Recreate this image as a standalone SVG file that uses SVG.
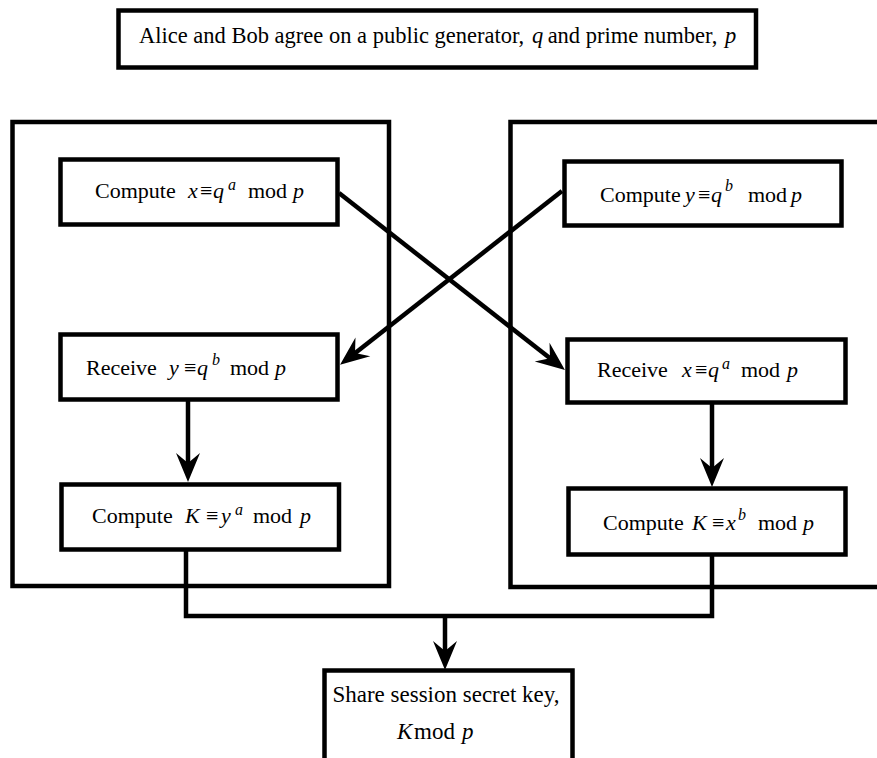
<svg xmlns="http://www.w3.org/2000/svg" width="877" height="758" viewBox="0 0 877 758">
<defs>
<style>
.box{fill:#fff;stroke:#000;stroke-width:4.5}
.outer{fill:none;stroke:#000;stroke-width:4.5}
.t{font-family:"Liberation Serif","Times New Roman",serif;font-size:22px;fill:#000}
.i{font-style:italic}
.s{font-style:italic;font-size:16px}
.c{fill:none;stroke:#000;stroke-width:4.5}
</style>
<marker id="ah" markerUnits="userSpaceOnUse" viewBox="0 0 32 26" markerWidth="32" markerHeight="26" refX="18" refY="13" orient="auto">
<path d="M30,13 L1,1 L11,13 L1,25 Z" fill="#000"/>
</marker>
</defs>
<rect width="877" height="758" fill="#fff"/>

<g id="containers">
<rect class="outer" x="12.5" y="122" width="376.5" height="464"/>
<rect class="outer" x="510.5" y="122" width="380" height="465"/>
</g>

<g id="connectors">
<path class="c" d="M339,193 L555.5,362.6" marker-end="url(#ah)"/>
<path class="c" d="M562,191 L349.5,357.4" marker-end="url(#ah)"/>
<path class="c" d="M188,401 L188,470" marker-end="url(#ah)"/>
<path class="c" d="M712,404 L712,475" marker-end="url(#ah)"/>
<path class="c" d="M186,551 L186,616 L712,616 L712,556"/>
<path class="c" d="M445,616 L445,658" marker-end="url(#ah)"/>
</g>

<g id="agree">
<rect class="box" x="118.5" y="10.5" width="637.5" height="57" stroke-width="5"/>
<text class="t" y="43" style="font-size:22.5px"><tspan x="139">Alice and Bob agree on a public generator, </tspan><tspan x="532" class="i">q</tspan><tspan x="542"> and prime number, </tspan><tspan x="725" class="i">p</tspan></text>
</g>

<g id="alice-compute-x">
<rect class="box" x="60.5" y="159.5" width="277" height="65"/>
<text class="t" y="198"><tspan x="95">Compute</tspan><tspan x="188" class="i">x</tspan><tspan x="200">≡</tspan><tspan x="213" class="i">q</tspan><tspan x="228" y="190" class="s">a</tspan><tspan x="248" y="198">mod</tspan><tspan x="293" class="i">p</tspan></text>
</g>

<g id="alice-receive-y">
<rect class="box" x="60.5" y="334.5" width="277" height="65"/>
<text class="t" y="375"><tspan x="86">Receive</tspan><tspan x="169" class="i">y</tspan><tspan x="184">≡</tspan><tspan x="197" class="i">q</tspan><tspan x="212" y="365" class="s">b</tspan><tspan x="230" y="375">mod</tspan><tspan x="275" class="i">p</tspan></text>
</g>

<g id="alice-compute-k">
<rect class="box" x="61.5" y="484.5" width="277.5" height="65"/>
<text class="t" y="523"><tspan x="92">Compute</tspan><tspan x="185" class="i">K</tspan><tspan x="206">≡</tspan><tspan x="221" class="i">y</tspan><tspan x="235" y="515" class="s">a</tspan><tspan x="253" y="523">mod</tspan><tspan x="300" class="i">p</tspan></text>
</g>

<g id="bob-compute-y">
<rect class="box" x="564.5" y="161.5" width="277" height="64"/>
<text class="t" y="202"><tspan x="600">Compute</tspan><tspan x="685" class="i">y</tspan><tspan x="698">≡</tspan><tspan x="711" class="i">q</tspan><tspan x="725" y="191" class="s">b</tspan><tspan x="748" y="202">mod</tspan><tspan x="791" class="i">p</tspan></text>
</g>

<g id="bob-receive-x">
<rect class="box" x="567.5" y="339.5" width="278" height="63"/>
<text class="t" y="377"><tspan x="597">Receive</tspan><tspan x="682" class="i">x</tspan><tspan x="695">≡</tspan><tspan x="708" class="i">q</tspan><tspan x="722" y="369" class="s">a</tspan><tspan x="741" y="377">mod</tspan><tspan x="787" class="i">p</tspan></text>
</g>

<g id="bob-compute-k">
<rect class="box" x="568.5" y="488.5" width="277" height="66"/>
<text class="t" y="530"><tspan x="603">Compute</tspan><tspan x="692" class="i">K</tspan><tspan x="712">≡</tspan><tspan x="726" class="i">x</tspan><tspan x="738" y="520" class="s">b</tspan><tspan x="758" y="530">mod</tspan><tspan x="803" class="i">p</tspan></text>
</g>

<g id="shared-key">
<rect class="box" x="324.5" y="670.5" width="248" height="100"/>
<text class="t" x="446" y="702" text-anchor="middle" style="font-size:23px">Share session secret key,</text>
<text class="t" y="739" style="font-size:23px"><tspan x="397" class="i">K</tspan><tspan x="414">mod</tspan><tspan x="462" class="i">p</tspan></text>
</g>
</svg>
